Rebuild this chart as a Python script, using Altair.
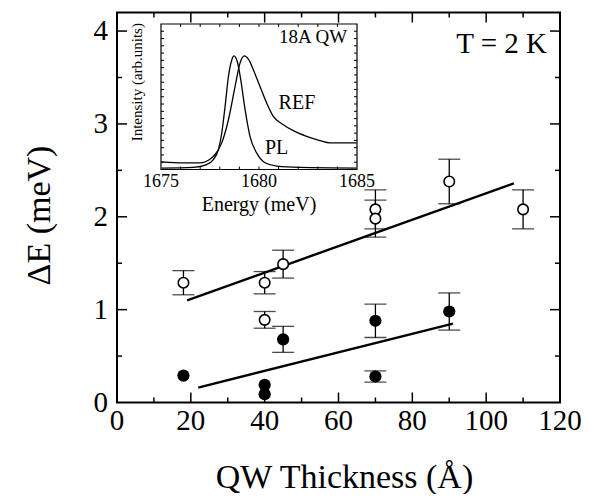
import altair as alt
import pandas as pd

# ---------------- main panel data ----------------
open_x = [18, 40, 45, 40, 70, 70, 90, 110]
open_y = [1.29, 1.29, 1.49, 0.89, 2.08, 1.98, 2.38, 2.08]
open_err = [0.13, 0.12, 0.15, 0.09, 0.21, 0.20, 0.24, 0.21]

filled_x = [18, 40, 40, 45, 70, 70, 90]
filled_y = [0.29, 0.19, 0.09, 0.68, 0.88, 0.28, 0.98]
filled_err = [0, 0, 0, 0.14, 0.18, 0.06, 0.20]

fit_open_x = [19, 107.5]
fit_open_y = [1.10, 2.36]
fit_filled_x = [22, 91]
fit_filled_y = [0.16, 0.85]

x_labels = [0, 20, 40, 60, 80, 100, 120]
y_labels = [0, 1, 2, 3, 4]
x_major = [20, 40, 60, 80, 100]
x_minor = [10, 30, 50, 70, 90, 110]
y_major = [1, 2, 3, 4]
y_minor = [0.5, 1.5, 2.5, 3.5]

x_title = "QW Thickness (Å)"
y_title = "ΔE (meV)"

# ---------------- inset data ----------------
energy_pl = [1675.03, 1676.65, 1677.33, 1677.67, 1677.93, 1678.10, 1678.27, 1678.44,
             1678.61, 1678.72, 1678.89, 1679.07, 1679.29, 1679.54, 1679.88, 1680.31,
             1680.90, 1682.09, 1684.98]
int_pl = [0.010, 0.015, 0.034, 0.068, 0.137, 0.251, 0.434, 0.639,
          0.753, 0.781, 0.742, 0.616, 0.411, 0.228, 0.114, 0.046,
          0.023, 0.014, 0.010]

energy_ref = [1675.03, 1676.14, 1676.99, 1677.42, 1677.76, 1678.10, 1678.44, 1678.78,
              1679.03, 1679.25, 1679.46, 1679.71, 1680.05, 1680.39, 1680.73, 1681.24,
              1681.75, 1682.43, 1683.11, 1683.62, 1684.30, 1684.98]
int_ref = [0.053, 0.046, 0.046, 0.064, 0.103, 0.183, 0.342, 0.571,
           0.731, 0.781, 0.758, 0.685, 0.571, 0.457, 0.365, 0.308,
           0.267, 0.228, 0.199, 0.183, 0.183, 0.183]

inset_x_labels = [1675, 1680, 1685]
inset_x_ticks = [1676, 1677, 1678, 1679, 1680, 1681, 1682, 1683, 1684]
inset_y_ticks = [0.05, 0.10, 0.15, 0.20, 0.25, 0.30, 0.35, 0.40, 0.45, 0.50,
                 0.55, 0.60, 0.65, 0.70, 0.75, 0.80, 0.85, 0.90, 0.95]

W, H = 443, 390
SERIF = "Liberation Serif"

xs = alt.Scale(domain=[0, 120], nice=False, zero=False)
ys = alt.Scale(domain=[0, 4.2], nice=False, zero=False)

df_open = pd.DataFrame({"x": open_x, "y": open_y, "e": open_err})
df_open["lo"] = df_open["y"] - df_open["e"]
df_open["hi"] = df_open["y"] + df_open["e"]
df_fill = pd.DataFrame({"x": filled_x, "y": filled_y, "e": filled_err})
df_fill["lo"] = df_fill["y"] - df_fill["e"]
df_fill["hi"] = df_fill["y"] + df_fill["e"]
df_fill_err = df_fill[df_fill["e"] > 0]
df_err = pd.concat([df_open, df_fill_err], ignore_index=True)


def X(field):
    return alt.X(field, scale=xs, axis=None)


def Y(field):
    return alt.Y(field, scale=ys, axis=None)


err_rule = alt.Chart(df_err).mark_rule(color="black", strokeWidth=1.3).encode(
    x=X("x:Q"), y=Y("lo:Q"), y2="hi:Q")
cap_lo = alt.Chart(df_err).mark_tick(color="black", orient="horizontal", size=22, thickness=1.3).encode(
    x=X("x:Q"), y=Y("lo:Q"))
cap_hi = alt.Chart(df_err).mark_tick(color="black", orient="horizontal", size=22, thickness=1.3).encode(
    x=X("x:Q"), y=Y("hi:Q"))

fit1 = alt.Chart(pd.DataFrame({"x": fit_open_x, "y": fit_open_y})).mark_line(
    color="black", strokeWidth=2.4).encode(x=X("x:Q"), y=Y("y:Q"))
fit2 = alt.Chart(pd.DataFrame({"x": fit_filled_x, "y": fit_filled_y})).mark_line(
    color="black", strokeWidth=2.4).encode(x=X("x:Q"), y=Y("y:Q"))

pts_open = alt.Chart(df_open).mark_point(shape="circle", filled=True, fill="white", stroke="black",
                                         strokeWidth=1.6, size=110, opacity=1).encode(
    x=X("x:Q"), y=Y("y:Q"))
pts_fill = alt.Chart(df_fill).mark_point(shape="circle", filled=True, color="black",
                                         size=150, opacity=1).encode(
    x=X("x:Q"), y=Y("y:Q"))


def xticks(vals, y0, y1):
    return alt.Chart(pd.DataFrame({"v": vals})).mark_rule(color="black", strokeWidth=1.5).encode(
        x=X("v:Q"), y=alt.value(y0), y2=alt.value(y1))


def yticks(vals, x0, x1):
    return alt.Chart(pd.DataFrame({"v": vals})).mark_rule(color="black", strokeWidth=1.5).encode(
        y=Y("v:Q"), x=alt.value(x0), x2=alt.value(x1))


ticks = [
    xticks(x_major, H, H - 10), xticks(x_minor, H, H - 5),
    xticks(x_major, 0, 10), xticks(x_minor, 0, 5),
    yticks(y_major, 0, 10), yticks(y_minor, 0, 5),
    yticks(y_major, W, W - 10), yticks(y_minor, W, W - 5),
]

# axis labels & titles as text
xlab = alt.Chart(pd.DataFrame({"v": x_labels})).mark_text(
    font=SERIF, fontSize=29, baseline="middle", align="center", color="black").encode(
    x=X("v:Q"), y=alt.value(H + 18), text=alt.Text("v:Q", format="d"))
ylab = alt.Chart(pd.DataFrame({"v": y_labels})).mark_text(
    font=SERIF, fontSize=29, baseline="middle", align="right", color="black").encode(
    y=Y("v:Q"), x=alt.value(-9), text=alt.Text("v:Q", format="d"))
xtit = alt.Chart(pd.DataFrame({"t": [x_title]})).mark_text(
    font=SERIF, fontSize=34, baseline="middle", align="center", color="black").encode(
    x=alt.value(W / 2 + 6), y=alt.value(H + 75), text="t:N")
ytit = alt.Chart(pd.DataFrame({"t": [y_title]})).mark_text(
    font=SERIF, fontSize=34, baseline="middle", align="center", color="black", angle=270).encode(
    x=alt.value(-77), y=alt.value(H / 2 + 8), text="t:N")

t_label = alt.Chart(pd.DataFrame({"x": [116.5], "y": [3.86], "t": ["T = 2 K"]})).mark_text(
    font=SERIF, fontSize=29, align="right", baseline="middle", color="black").encode(
    x=X("x:Q"), y=Y("y:Q"), text="t:N")

main = alt.layer(fit1, fit2, err_rule, cap_lo, cap_hi, pts_open, pts_fill, *ticks,
                 xlab, ylab, xtit, ytit, t_label)

# ---------------- inset ----------------
IX0, IX1, IY0, IY1 = 44, 240, 157, 11.5
ixs = alt.Scale(domain=[1675, 1685], range=[IX0, IX1], nice=False, zero=False)
iys = alt.Scale(domain=[0, 1], range=[IY0, IY1], nice=False, zero=False)

one = pd.DataFrame({"a": [0]})
inset_bg = alt.Chart(one).mark_rect(fill="white", stroke="black", strokeWidth=1.2).encode(
    x=alt.value(IX0), x2=alt.value(IX1), y=alt.value(IY1), y2=alt.value(IY0))

pl_line = alt.Chart(pd.DataFrame({"e": energy_pl, "i": int_pl})).mark_line(
    color="black", strokeWidth=1.3, interpolate="monotone").encode(
    x=alt.X("e:Q", scale=ixs, axis=None), y=alt.Y("i:Q", scale=iys, axis=None))
ref_line = alt.Chart(pd.DataFrame({"e": energy_ref, "i": int_ref})).mark_line(
    color="black", strokeWidth=1.3, interpolate="monotone").encode(
    x=alt.X("e:Q", scale=ixs, axis=None), y=alt.Y("i:Q", scale=iys, axis=None))


def ixticks(vals, y0, y1):
    return alt.Chart(pd.DataFrame({"v": vals})).mark_rule(color="black", strokeWidth=1).encode(
        x=alt.X("v:Q", scale=ixs, axis=None), y=alt.value(y0), y2=alt.value(y1))


def iyticks(vals, x0, x1):
    return alt.Chart(pd.DataFrame({"v": vals})).mark_rule(color="black", strokeWidth=1).encode(
        y=alt.Y("v:Q", scale=iys, axis=None), x=alt.value(x0), x2=alt.value(x1))


inset_ticks = [
    ixticks(inset_x_ticks, IY0, IY0 - 3), ixticks(inset_x_ticks, IY1, IY1 + 3),
    iyticks(inset_y_ticks, IX0, IX0 + 3), iyticks(inset_y_ticks, IX1, IX1 - 3),
]

inset_tick_labels = alt.Chart(pd.DataFrame({"v": inset_x_labels})).mark_text(
    font=SERIF, fontSize=18, baseline="top", color="black", dy=3).encode(
    x=alt.X("v:Q", scale=ixs, axis=None), y=alt.value(IY0), text=alt.Text("v:Q", format="d"))

qw_text = alt.Chart(pd.DataFrame({"e": [1684.5], "i": [0.91], "t": ["18A QW"]})).mark_text(
    font=SERIF, fontSize=19, baseline="middle", align="right", color="black").encode(
    x=alt.X("e:Q", scale=ixs, axis=None), y=alt.Y("i:Q", scale=iys, axis=None), text="t:N")
curve_texts = alt.Chart(pd.DataFrame({"e": [1681.0, 1680.3], "i": [0.46, 0.15],
                                      "t": ["REF", "PL"]})).mark_text(
    font=SERIF, fontSize=20, baseline="middle", align="left", color="black").encode(
    x=alt.X("e:Q", scale=ixs, axis=None), y=alt.Y("i:Q", scale=iys, axis=None), text="t:N")

inset_titles = alt.Chart(pd.DataFrame({"e": [1680], "t": ["Energy (meV)"]})).mark_text(
    font=SERIF, fontSize=20, baseline="middle", color="black").encode(
    x=alt.X("e:Q", scale=ixs, axis=None), y=alt.value(IY0 + 35), text="t:N")

inset_ytitle = alt.Chart(pd.DataFrame({"i": [0.6], "t": ["Intensity (arb.units)"]})).mark_text(
    font=SERIF, fontSize=15, baseline="middle", color="black", angle=270).encode(
    y=alt.Y("i:Q", scale=iys, axis=None), x=alt.value(IX0 - 24), text="t:N")

inset = alt.layer(inset_bg, pl_line, ref_line, *inset_ticks, inset_tick_labels,
                  qw_text, curve_texts, inset_titles, inset_ytitle)

chart = alt.layer(main, inset).resolve_scale(x="independent", y="independent").properties(
    width=W, height=H,
    background="white",
    autosize=alt.AutoSizeParams(type="none"),
    padding={"left": 109, "top": 4.5, "right": 26, "bottom": 91},
).configure_view(stroke="black", strokeWidth=2)

chart.save("out.html", embed_options={"renderer": "svg", "actions": False})
